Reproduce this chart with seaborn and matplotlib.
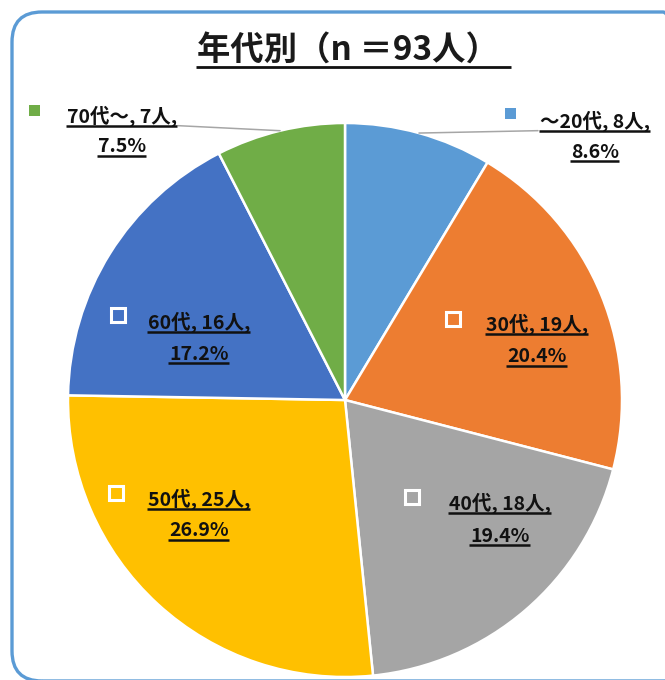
import matplotlib.pyplot as plt
import numpy as np
import seaborn as sns
from matplotlib.patches import FancyBboxPatch, Rectangle


groups = ["～20代", "30代", "40代", "50代", "60代", "70代～"]
counts = [8, 19, 18, 25, 16, 7]
colors = ["#5B9BD5", "#ED7D31", "#A5A5A5", "#FFC000", "#4472C4", "#70AD47"]
title_text = "年代別（n ＝93人）"

W, H = 665, 680
CX, CY, R = 345, 400, 277

# label layout in pixels from the top-left: marker x, marker y, text x, line1 y, line2 y, outside?
label_layout = [
    (510, 113, 595, 121, 152, True),
    (453, 319, 537, 324, 357, False),
    (412, 497, 500, 503, 536, False),
    (116, 493, 199, 499, 531, False),
    (118, 315, 199, 322, 354, False),
    (34, 110, 122, 116, 147, True),
]

sns.set_theme(style="white")
plt.rcParams["font.family"] = ["Noto Sans CJK JP", "DejaVu Sans"]

fig = plt.figure(figsize=(W / 100, H / 100), dpi=100)
ax = fig.add_axes([0, 0, 1, 1])

total = sum(counts)
wedges, _ = ax.pie(
    counts,
    colors=colors,
    startangle=90,
    counterclock=False,
    center=(CX, H - CY),
    radius=R,
    wedgeprops=dict(edgecolor="white", linewidth=1.8),
)
ax.set_xlim(0, W)
ax.set_ylim(0, H)
ax.set_aspect("auto")
ax.axis("off")

# rounded frame, its right side runs off the picture
border = FancyBboxPatch(
    (12, -1), W + 16, H - 11,
    boxstyle="round,pad=0,rounding_size=30",
    facecolor="none", edgecolor="#5B9BD5", linewidth=2.4, zorder=0,
    clip_on=False,
)
ax.add_patch(border)

texts = []
t = ax.text(348, H - 51, title_text, ha="center", va="center",
            fontsize=24, fontweight="bold", color="#1a1a1a")
texts.append((t, 2.0, 12))

for w, g, n, c, lay in zip(wedges, groups, counts, colors, label_layout):
    mx, my, tx, y1, y2, outside = lay
    pct = n / total * 100
    t1 = ax.text(tx, H - y1, f"{g}, {n}人,", ha="center", va="center",
                 fontsize=14, fontweight="bold", color="#111111", zorder=5)
    t2 = ax.text(tx, H - y2, f"{pct:.1f}%", ha="center", va="center",
                 fontsize=14, fontweight="bold", color="#111111", zorder=5)
    texts.append((t1, 1.8, 0))
    texts.append((t2, 1.8, 0))
    if outside:
        s = 11
        ax.add_patch(Rectangle((mx - s / 2, H - my - s / 2), s, s,
                               facecolor=c, edgecolor="none", zorder=5))
        mid = np.deg2rad((w.theta1 + w.theta2) / 2)
        ex = CX + R * np.cos(mid)
        ey = H - CY + R * np.sin(mid)
        texts.append((t1, None, (ex, ey)))
    else:
        s = 14
        ax.add_patch(Rectangle((mx - s / 2, H - my - s / 2), s, s,
                               facecolor=c, edgecolor="white", linewidth=2.2, zorder=5))

# underlines and leader lines need the drawn text extents
fig.canvas.draw()
for t, lw, extra in texts:
    bb = t.get_window_extent()
    if lw is None:
        ex, ey = extra
        if ex < bb.x0:
            sx = bb.x0 - 2
        else:
            sx = bb.x1 + 1
        ax.plot([sx, ex], [bb.y0 + 1, ey], color="#A6A6A6", lw=1.1, zorder=4)
        continue
    ax.plot([bb.x0 - 1, bb.x1 + extra], [bb.y0 + 1, bb.y0 + 1],
            color="#111111", lw=lw, zorder=6, solid_capstyle="butt")

fig.savefig("out.png", dpi=100)
